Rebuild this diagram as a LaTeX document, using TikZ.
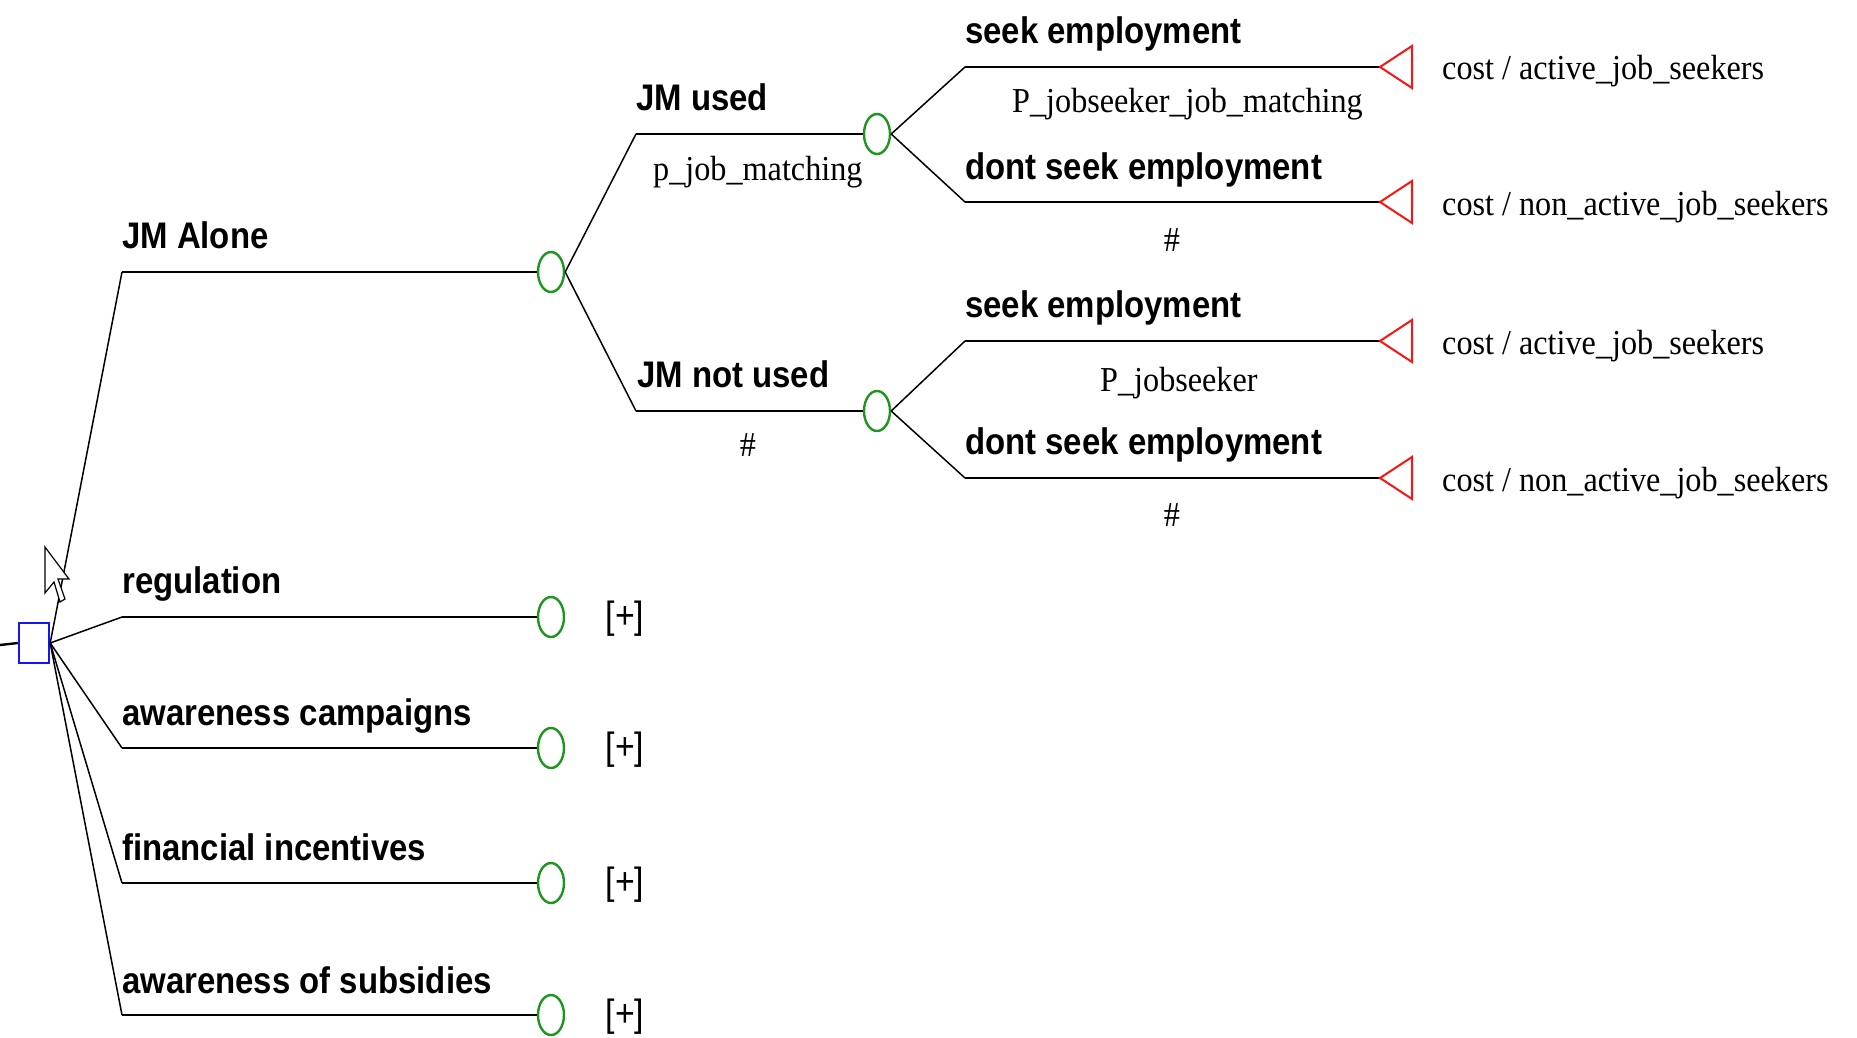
\documentclass[tikz,border=0pt]{standalone}
\usepackage{fontspec}
\usetikzlibrary{shapes.geometric}
\setmainfont{Liberation Serif}
\newfontfamily\brfont{Liberation Sans}[FakeStretch=0.89]
\newfontfamily\prfont{Liberation Serif}[FakeStretch=0.92]
\definecolor{chancegreen}{RGB}{30,150,30}
\definecolor{decblue}{RGB}{20,20,245}
\definecolor{termred}{RGB}{250,20,20}

\begin{document}
\begin{tikzpicture}[x=1pt,y=-1pt,
  hline/.style={line width=2.4pt},
  diag/.style={line width=1.5pt},
  decision/.style={rectangle, draw=decblue, line width=2.4pt, minimum width=30pt, minimum height=40pt, inner sep=0pt},
  chance/.style={ellipse, draw=chancegreen, line width=2.4pt, minimum width=26pt, minimum height=40pt, inner sep=0pt},
  terminal/.style={draw=termred, line width=2pt, line join=miter},
  blabel/.style={font=\brfont\bfseries\fontsize{37}{40}\selectfont, anchor=base west, inner sep=0pt},
  plabel/.style={font=\prfont\fontsize{35}{38}\selectfont, anchor=base west, inner sep=0pt},
  hlabel/.style={font=\prfont\fontsize{35}{38}\selectfont, anchor=center, inner sep=0pt},
  expand/.style={font=\brfont\fontsize{38}{40}\selectfont, anchor=center, inner sep=0pt},
  pointer/.style={draw=black, fill=white, line width=1.2pt, line join=miter}
]
\fill[white] (0,0) rectangle (1857,1038);
\useasboundingbox (0,0) rectangle (1857,1038);

% root decision and its entry stub
\coordinate (entry) at (0,645);
\node[decision] (dec) at (34,643) {};
\draw[hline] (entry) -- (dec.west);

% chance nodes
\node[chance] (cjm)  at (551,272) {};
\node[chance] (cuse) at (877,134) {};
\node[chance] (cnot) at (877,411) {};
\node[chance] (creg) at (551,617) {};
\node[chance] (ccam) at (551,748) {};
\node[chance] (cfin) at (551,883) {};
\node[chance] (csub) at (551,1015) {};

% branch start points
\coordinate (bjm)  at (122,272);
\coordinate (breg) at (122,617);
\coordinate (bcam) at (122,748);
\coordinate (bfin) at (122,883);
\coordinate (bsub) at (122,1015);
\coordinate (buse) at (636,134);
\coordinate (bnot) at (636,411);
\coordinate (bs1) at (965,67);
\coordinate (bd1) at (965,202);
\coordinate (bs2) at (965,341);
\coordinate (bd2) at (965,478);

% terminal apexes
\coordinate (ts1) at (1380,67);
\coordinate (td1) at (1380,202);
\coordinate (ts2) at (1380,341);
\coordinate (td2) at (1380,478);

% decision branches
\foreach \b/\c in {bjm/cjm, breg/creg, bcam/ccam, bfin/cfin, bsub/csub} {
  \draw[diag] (dec.east) -- (\b);
  \draw[hline] (\b) -- (\c.west);
}

% JM Alone sub-tree
\foreach \b/\c in {buse/cuse, bnot/cnot} {
  \draw[diag] (cjm.east) -- (\b);
  \draw[hline] (\b) -- (\c.west);
}
\foreach \p/\b/\t in {cuse/bs1/ts1, cuse/bd1/td1, cnot/bs2/ts2, cnot/bd2/td2} {
  \draw[diag] (\p.east) -- (\b);
  \draw[hline] (\b) -- (\t);
  \draw[terminal] (\t) -- ++(32,-21) -- ++(0,42) -- cycle;
}

% branch names
\node[blabel] (ljm)  at (122,248) {JM Alone};
\node[blabel] (lreg) at (122,593) {regulation};
\node[blabel] (lcam) at (122,725) {awareness campaigns};
\node[blabel] (lfin) at (122,860) {financial incentives};
\node[blabel] (lsub) at (122,993) {awareness of subsidies};
\node[blabel] (luse) at (636,111) {JM used};
\node[blabel] (lnot) at (637,387) {JM not used};
\node[blabel] (ls1)  at (965,44)  {seek employment};
\node[blabel] (ld1)  at (965,179) {dont seek employment};
\node[blabel] (ls2)  at (965,317) {seek employment};
\node[blabel] (ld2)  at (965,454) {dont seek employment};

% probabilities
\node[plabel] (puse) at (653,180) {p\_job\_matching};
\node[plabel] (ps1)  at (1012,113) {P\_jobseeker\_job\_matching};
\node[plabel] (ps2)  at (1100,391) {P\_jobseeker};
\node[hlabel] (pnot) at (748,445) {\#};
\node[hlabel] (pd1)  at (1172,240) {\#};
\node[hlabel] (pd2)  at (1172,515) {\#};

% payoffs
\node[plabel] (vs1) at (1442,80)  {cost / active\_job\_seekers};
\node[plabel] (vd1) at (1442,215) {cost / non\_active\_job\_seekers};
\node[plabel] (vs2) at (1442,354) {cost / active\_job\_seekers};
\node[plabel] (vd2) at (1442,491) {cost / non\_active\_job\_seekers};

% collapsed sub-trees
\node[expand] (xreg) at (625,619)  {[+]};
\node[expand] (xcam) at (625,750)  {[+]};
\node[expand] (xfin) at (625,885)  {[+]};
\node[expand] (xsub) at (625,1017) {[+]};

% mouse pointer
\draw[pointer] (45,547) -- (45,593) -- (54,582) -- (60,602) -- (65,599) -- (58,579) -- (69,579) -- cycle;
\end{tikzpicture}
\end{document}
